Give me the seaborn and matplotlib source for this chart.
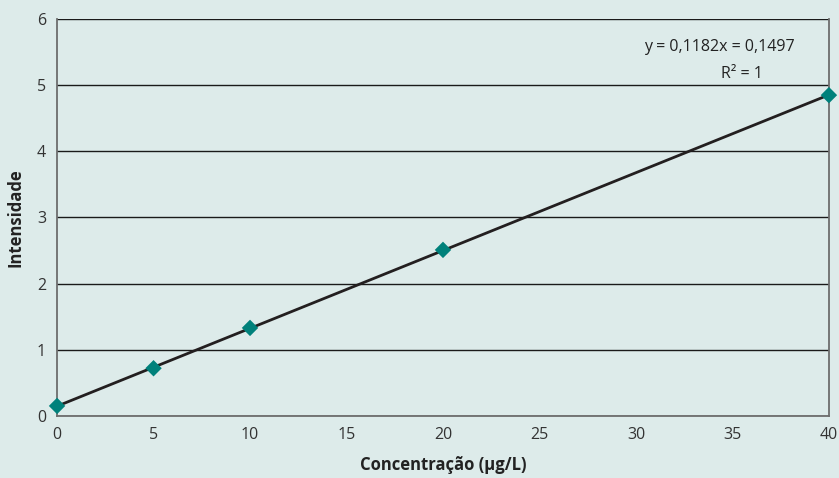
import numpy as np
import pandas as pd
import matplotlib
matplotlib.use("Agg")
import matplotlib.pyplot as plt
import seaborn as sns

# Dados da curva de calibração
concentracao = [0, 5, 10, 20, 40]
intensidade = [0.15, 0.72, 1.33, 2.51, 4.85]
equacao = "y = 0,1182x = 0,1497"
r2 = "R² = 1"

df = pd.DataFrame({"conc": concentracao, "int": intensidade})

sns.set_theme(style="white")
plt.rcParams["font.family"] = ["Open Sans", "DejaVu Sans"]

fundo = "#ddebea"
fig = plt.figure(figsize=(8.39, 4.78), dpi=100, facecolor=fundo)
ax = fig.add_axes([0.068, 0.13, 0.92, 0.83])
ax.set_facecolor(fundo)

# Linha de tendência (regressão linear)
sns.regplot(data=df, x="conc", y="int", scatter=False, ci=None, truncate=True,
            line_kws={"color": "#231f20", "lw": 2}, ax=ax)
sns.scatterplot(data=df, x="conc", y="int", marker="D", s=70, color="#00817b",
                edgecolor="none", zorder=5, clip_on=False, ax=ax)

ax.set_xlim(0, 40)
ax.set_ylim(0, 6)
ax.set_xticks([0, 5, 10, 15, 20, 25, 30, 35, 40])
ax.set_yticks([0, 1, 2, 3, 4, 5, 6])
ax.yaxis.grid(True, color="#1a1a1a", lw=1)
ax.set_axisbelow(True)

for lado in ["left", "bottom", "right"]:
    ax.spines[lado].set_color("#6d6d6d")
    ax.spines[lado].set_linewidth(1.3)
ax.spines["top"].set_visible(False)

ax.tick_params(axis="both", labelsize=11.5, colors="#333333", length=0, pad=8)
ax.set_xlabel("Concentração (µg/L)", fontsize=12, fontweight="bold",
              color="#222222")
ax.set_ylabel("Intensidade", fontsize=12, fontweight="bold",
              color="#222222")
ax.xaxis.set_label_coords(0.5, -0.1)
ax.yaxis.set_label_coords(-0.042, 0.5)

ax.text(0.955, 0.929, equacao, transform=ax.transAxes, ha="right", va="center",
        fontsize=11.5, color="#222222")
ax.text(0.887, 0.861, r2, transform=ax.transAxes, ha="center", va="center",
        fontsize=11.5, color="#222222")

plt.savefig("out.png", dpi=100, facecolor=fundo)
